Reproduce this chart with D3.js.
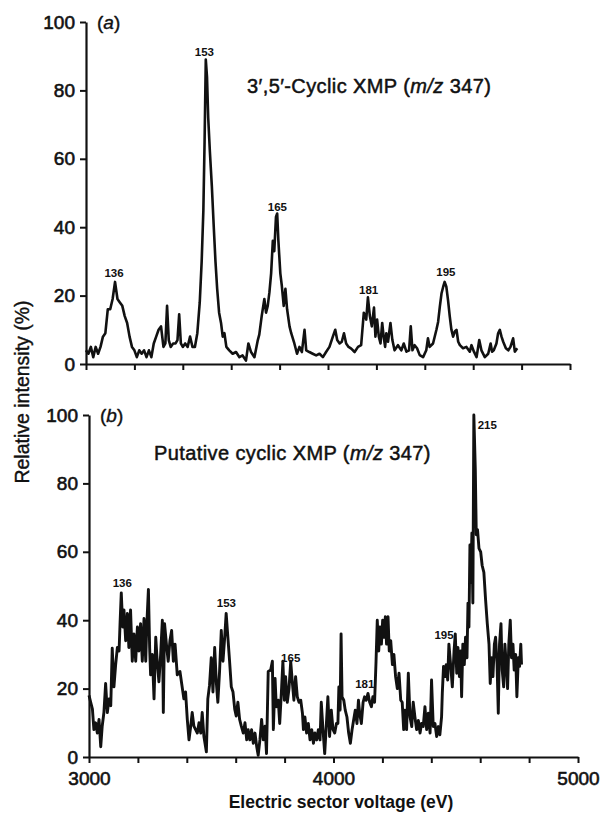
<!DOCTYPE html>
<html>
<head>
<meta charset="utf-8">
<script src="https://cdn.jsdelivr.net/npm/d3@7"></script>
<style>
body { margin: 0; background: #fff; }
svg text { font-family: "Liberation Sans", Arial, Helvetica, sans-serif; fill: #111; }
</style>
</head>
<body>
<svg id="chart" width="605" height="813"></svg>
<script>

// (a) 3',5'-cyclic XMP, m/z 347 : [electric sector voltage (eV), relative intensity (%)]
var spectrumA = [
  [3000,4],[3010,3],[3020,5],[3030,2],[3040,5],[3050,3],[3060,5],[3070,8],[3080,9],[3090,16],
  [3100,16],[3110,19],[3120,24],[3130,19],[3140,18],[3150,17],[3160,14],[3170,12],[3180,8],[3190,5],
  [3200,4],[3210,2],[3220,4],[3230,3],[3240,4],[3250,2],[3260,4],[3270,2],[3280,6],[3290,8],
  [3300,10],[3310,11],[3320,5],[3328,6],[3335,17],[3342,7],[3350,5],[3360,6],[3370,6],[3378,7],
  [3385,14.5],[3392,6],[3400,5],[3410,6],[3420,5],[3430,8],[3440,5],[3450,5],[3460,9],[3470,18],
  [3478,30],[3485,45],[3490,65],[3495,89],[3500,84],[3505,72],[3512,62],[3520,52],[3528,40],[3535,30],
  [3542,22],[3550,15],[3558,12],[3565,8],[3572,9],[3580,5],[3592,4],[3606,3],[3620,3.5],[3634,2],
  [3647,2.5],[3661,1],[3671,6],[3682,3.5],[3696,2],[3710,7],[3716,8.6],[3726,14],[3737,19],[3744,15],
  [3751,17],[3758,21],[3765,26.5],[3772,36],[3778,33],[3785,43],[3790,44],[3795,36],[3803,26.5],[3809,23],
  [3817,17],[3824,22],[3831,16],[3841,11],[3848,9],[3861,6],[3872,3],[3882,5],[3892,3.5],[3903,10],
  [3910,4],[3923,3.5],[3937,3],[3951,2.5],[3965,3],[3979,2],[3992,3.5],[4006,5],[4020,8],[4030,10],
  [4038,7],[4048,6],[4057,6.5],[4066,9],[4075,6],[4085,5],[4096,4.5],[4110,3.5],[4124,5],[4137,5.5],
  [4148,15],[4158,13],[4165,19.5],[4173,14],[4181,11],[4190,16.5],[4196,8],[4203,13],[4210,8],[4217,6],
  [4224,12],[4230,8],[4236,5],[4241,9],[4248,6.5],[4258,12],[4266,7],[4275,4],[4289,5.5],[4303,4],
  [4313,6],[4324,3.6],[4335,4],[4342,11],[4349,4],[4358,5.5],[4368,4.6],[4379,2.6],[4393,2],[4406,4],
  [4413,7.5],[4420,5],[4434,6],[4448,10],[4455,12.3],[4462,16.7],[4469,20.6],[4476,22.6],[4482,24],[4489,22.6],
  [4496,18.7],[4503,14],[4510,10],[4517,8],[4524,9.5],[4531,10],[4538,6.5],[4545,5.5],[4558,4.6],[4572,5],
  [4586,3.6],[4593,5.5],[4603,3.6],[4614,2],[4625,7],[4634,4],[4648,2],[4662,3],[4672,6],[4678,3.6],
  [4685,4],[4696,6],[4703,9],[4710,10],[4717,8],[4724,6.5],[4735,4.6],[4745,4],[4754,5],[4765,7.5],
  [4772,3.6],[4782,4.6]
];

// (b) putative cyclic XMP, m/z 347
var spectrumB = [
  [3000,18],[3007,16],[3014,14],[3020,8],[3027,10],[3034,7],[3041,11],[3048,3],[3054,9],[3061,13],
  [3068,21.5],[3075,13],[3082,17],[3089,15],[3095,31.8],[3102,20.5],[3109,27],[3116,32],[3123,31],[3127,39],
  [3132,48],[3138,38],[3143,43],[3150,34],[3157,42],[3163,32],[3170,43],[3177,28],[3184,36],[3191,28],
  [3198,38],[3204,31],[3211,39],[3218,28],[3225,40.5],[3232,28],[3236,38],[3243,49],[3248,32],[3252,24],
  [3259,30],[3266,17],[3273,35],[3279,28],[3286,22],[3293,30],[3300,40],[3304,13],[3309,39],[3318,32],
  [3324,28],[3331,34],[3338,37],[3345,28],[3352,33],[3361,24],[3372,25],[3379,21.5],[3388,17],[3395,19],
  [3402,11],[3409,5],[3416,9],[3422,13],[3429,9],[3436,8],[3443,7],[3450,10],[3457,7],[3463,13],
  [3470,6],[3480,1.5],[3486,17],[3493,21],[3500,29],[3507,19],[3514,32],[3521,21.5],[3527,16],[3534,25],
  [3541,37],[3548,28],[3555,35],[3561,42],[3568,35],[3575,28],[3582,20.5],[3589,19],[3596,14],[3602,12],
  [3609,16],[3616,11],[3623,9],[3631,7],[3638,10],[3645,5],[3651,8],[3658,5],[3665,8],[3672,4],
  [3679,7],[3686,3],[3692,0.5],[3699,5],[3706,11],[3713,5],[3720,9],[3726,1],[3733,25],[3743,25.4],
  [3750,28],[3754,8],[3761,23],[3766,14.7],[3774,16.6],[3780,9.8],[3788,20.5],[3793,28],[3799,16.6],[3804,23.5],
  [3811,16],[3818,20],[3825,28],[3832,21.5],[3838,16.6],[3845,23.5],[3852,17.6],[3859,16],[3866,16.6],[3873,12.8],
  [3877,8],[3883,11.7],[3890,7],[3897,9.8],[3904,5],[3911,8],[3918,4],[3924,7],[3931,5],[3938,8],
  [3945,5],[3950,16],[3957,8],[3964,1],[3971,9.8],[3977,17.6],[3984,6],[3991,13.7],[3998,8],[4005,7],
  [4012,9.8],[4018,9.8],[4022,20.5],[4027,13.7],[4031,36],[4035,17.6],[4042,16.6],[4048,13.7],[4055,11.7],[4062,7],
  [4069,4],[4076,8],[4082,10.7],[4089,13.7],[4096,9.8],[4102,16.6],[4107,12.8],[4114,9.8],[4121,16],[4127,17.6],
  [4134,16.6],[4141,18.6],[4148,16],[4155,14.7],[4161,17.6],[4168,16],[4174,28],[4179,40],[4185,31],[4190,38],
  [4196,33],[4201,40],[4206,35],[4212,41],[4217,33],[4223,41],[4228,31],[4234,34],[4241,27],[4247,30],
  [4254,23.5],[4261,20],[4268,24.5],[4275,16.6],[4281,16],[4287,8],[4292,13.7],[4299,8],[4306,24.5],[4313,11.7],
  [4320,8.9],[4326,16],[4333,11.7],[4340,8],[4347,10.7],[4354,7],[4360,9.8],[4367,8.9],[4374,14.7],[4381,8],
  [4388,12.8],[4395,7],[4401,22.5],[4408,8.9],[4415,9.8],[4422,6],[4429,8.9],[4435,6.5],[4442,11.7],[4445,18.6],
  [4450,26.5],[4456,23.5],[4461,27],[4467,22.5],[4472,33],[4479,27],[4486,20.5],[4493,31],[4498,36],[4504,24.5],
  [4509,32],[4515,23.5],[4520,31],[4524,17.6],[4529,33],[4535,27],[4540,35],[4546,29],[4550,45],[4554,38],
  [4558,62],[4562,51],[4566,65.5],[4570,45],[4574,100],[4580,84],[4584,65],[4589,66.5],[4595,61],[4602,60],
  [4608,56],[4615,54],[4622,46],[4629,39],[4636,33],[4641,21.5],[4647,29],[4652,23.5],[4658,33],[4663,35],
  [4669,27],[4674,12.8],[4679,33],[4685,39],[4690,25.4],[4696,20.5],[4701,33],[4707,26.5],[4712,20],[4717,33],
  [4723,40],[4728,29],[4734,33],[4739,25.4],[4745,30],[4750,17.6],[4756,29],[4761,26.5],[4766,33],[4769,27]
];

// fragment m/z labels and where they sit (voltage, intensity)
var peakNamesA = ['136', '153', '165', '181', '195'];
var peakSpotsA = [[3116,26.6],[3489,91.2],[3791,45.9],[4168,21.6],[4487,26.9]];
var peakNamesB = ['136', '153', '165', '181', '195', '215'];
var peakSpotsB = [[3136,51],[3562,44.9],[3825,28.9],[4128,21.3],[4452,35.7],[4629,97]];

var yTicks = [0, 20, 40, 60, 80, 100];
var xTicks = [3000, 3200, 3400, 3600, 3800, 4000, 4200, 4400, 4600, 4800, 5000];
var xTickLabels = ['3000', '4000', '5000'];

var svg = d3.select('#chart');

var panels = [
  {data: spectrumA, names: peakNamesA, spots: peakSpotsA, left: 86, right: 570, top: 22, bottom: 364,
   tag: 'a', pre: '3\u2032,5\u2032-Cyclic XMP (', titleX: 247, titleY: 93, xLabels: false, width: 2.6},
  {data: spectrumB, names: peakNamesB, spots: peakSpotsB, left: 89, right: 578, top: 415, bottom: 757,
   tag: 'b', pre: 'Putative cyclic XMP (', titleX: 154, titleY: 460, xLabels: true, width: 2.9}
];

// scanned type is heavier than plain Liberation, so give it a thin outline
function heavy(sel, w) {
  sel.attr('stroke', '#111').attr('stroke-width', w).attr('stroke-linejoin', 'round');
}

panels.forEach(function(p) {
  var x = d3.scaleLinear().domain([3000, 5000]).range([p.left, p.right]);
  var y = d3.scaleLinear().domain([0, 100]).range([p.bottom, p.top]);
  var g = svg.append('g');

  var xAxis = d3.axisBottom(x).tickValues(xTicks).tickSize(6).tickSizeOuter(0).tickPadding(9)
    .tickFormat(function(d) {
      return p.xLabels && xTickLabels.indexOf(String(d)) >= 0 ? d : '';
    });
  var gx = g.append('g').attr('transform', 'translate(0,' + p.bottom + ')').call(xAxis);

  var yAxis = d3.axisLeft(y).tickValues(yTicks).tickSize(6).tickSizeOuter(0).tickPadding(5);
  var gy = g.append('g').attr('transform', 'translate(' + p.left + ',0)').call(yAxis);

  [gx, gy].forEach(function(a) {
    a.select('.domain').attr('stroke', '#111').attr('stroke-width', 2.2);
    a.selectAll('.tick line').attr('stroke', '#111').attr('stroke-width', 2);
    var t = a.selectAll('.tick text').attr('font-size', 19).attr('fill', '#111')
      .attr('font-family', '"Liberation Sans", Arial, sans-serif');
    heavy(t, 0.6);
  });

  var line = d3.line().x(function(d) { return x(d[0]); }).y(function(d) { return y(d[1]); });
  g.append('path').datum(p.data)
    .attr('d', line)
    .attr('fill', 'none')
    .attr('stroke', '#111')
    .attr('stroke-width', p.width)
    .attr('stroke-linejoin', 'round');

  g.selectAll('.peak').data(p.names).enter().append('text')
    .attr('class', 'peak')
    .attr('x', function(d, i) { return x(p.spots[i][0]); })
    .attr('y', function(d, i) { return y(p.spots[i][1]); })
    .attr('dy', '0.35em')
    .attr('text-anchor', 'middle')
    .attr('font-size', 11.5)
    .attr('font-weight', 'bold')
    .text(function(d) { return d; });

  var tag = g.append('text').attr('x', p.left + 11).attr('y', p.top + 7).attr('font-size', 19);
  tag.append('tspan').text('(');
  tag.append('tspan').attr('font-style', 'italic').text(p.tag);
  tag.append('tspan').text(')');
  heavy(tag, 0.4);

  var title = g.append('text').attr('x', p.titleX).attr('y', p.titleY)
    .attr('font-size', 20).attr('letter-spacing', 0.4);
  title.append('tspan').text(p.pre);
  title.append('tspan').attr('font-style', 'italic').text('m/z');
  title.append('tspan').text(' 347)');
  heavy(title, 0.5);
});

var yTitle = svg.append('text')
  .attr('transform', 'translate(29,392) rotate(-90)')
  .attr('text-anchor', 'middle')
  .attr('font-size', 19.5)
  .text('Relative intensity (%)');
heavy(yTitle, 0.4);

svg.append('text')
  .attr('x', 341)
  .attr('y', 808)
  .attr('text-anchor', 'middle')
  .attr('font-size', 17.5)
  .attr('font-weight', 'bold')
  .text('Electric sector voltage (eV)');

</script>
</body>
</html>
